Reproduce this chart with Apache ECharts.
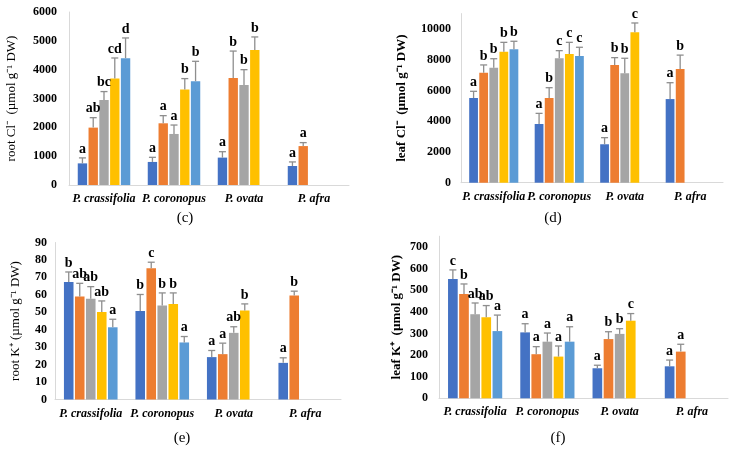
<!DOCTYPE html>
<html><head><meta charset="utf-8">
<script src="https://cdn.jsdelivr.net/npm/echarts@6/dist/echarts.min.js"></script>
<style>html,body{margin:0;padding:0;background:#fff}#chart{width:734px;height:450px}</style>
</head><body><div id="chart"></div>
<script>
// ---------- data ----------
const categories = ['P. crassifolia', 'P. coronopus', 'P. ovata', 'P. afra'];
const seriesNames = ['Treatment 1', 'Treatment 2', 'Treatment 3', 'Treatment 4', 'Treatment 5'];

// (c) root Cl- (µmol g-1 DW)
const rootClMeans = [
  [750, 800, 950, 660],
  [1990, 2140, 3710, 1350],
  [2950, 1770, 3470, null],
  [3690, 3310, 4680, null],
  [4400, 3600, null, null]
];
const rootClErr = [
  [190, 160, 205, 140],
  [345, 265, 935, 120],
  [290, 310, 530, null],
  [715, 380, 455, null],
  [700, 690, null, null]
];
const rootClLetters = [
  ['a', 'a', 'a', 'a'],
  ['ab', 'a', 'b', 'a'],
  ['bc', 'a', 'b', null],
  ['cd', 'b', 'b', null],
  ['d', 'b', null, null]
];

// (d) leaf Cl- (µmol g-1 DW)
const leafClMeans = [
  [5510, 3820, 2500, 5440],
  [7160, 5510, 7660, 7400],
  [7480, 8090, 7120, null],
  [8525, 8370, 9785, null],
  [8680, 8240, null, null]
];
const leafClErr = [
  [435, 690, 430, 1065],
  [500, 670, 475, 900],
  [585, 500, 975, null],
  [605, 760, 605, null],
  [520, 570, null, null]
];
const leafClLetters = [
  ['a', 'a', 'a', 'a'],
  ['b', 'b', 'b', 'b'],
  ['b', 'c', 'b', null],
  ['b', 'c', 'c', null],
  ['b', 'c', null, null]
];

// (e) root K+ (µmol g-1 DW)
const rootKMeans = [
  [67.3, 50.8, 24.3, 21.0],
  [59.0, 75.3, 26.0, 59.6],
  [57.7, 53.9, 38.2, null],
  [50.1, 54.7, 51.0, null],
  [41.4, 32.7, null, null]
];
const rootKErr = [
  [5.8, 9.4, 3.8, 2.9],
  [7.6, 3.4, 6.3, 2.5],
  [7.0, 7.2, 3.5, null],
  [6.4, 6.4, 3.8, null],
  [4.6, 3.4, null, null]
];
const rootKLetters = [
  ['b', 'b', 'a', 'a'],
  ['ab', 'c', 'a', 'b'],
  ['ab', 'b', 'ab', null],
  ['ab', 'b', 'b', null],
  ['a', 'a', null, null]
];

// (f) leaf K+ (µmol g-1 DW)
const leafKMeans = [
  [552, 305, 139, 148],
  [483, 204, 274, 216],
  [389, 262, 298, null],
  [375, 193, 359, null],
  [311, 262, null, null]
];
const leafKErr = [
  [42, 40, 14, 29],
  [46, 35, 34, 34],
  [52, 40, 24, null],
  [54, 49, 33, null],
  [74, 69, null, null]
];
const leafKLetters = [
  ['c', 'a', 'a', 'a'],
  ['b', 'a', 'b', 'a'],
  ['ab', 'a', 'b', null],
  ['ab', 'a', 'c', null],
  ['a', 'a', null, null]
];

const yAxisTitles = ['root Cl\u207B  (\u00B5mol g\u207B\u00B9 DW)', 'leaf Cl\u207B  (\u00B5mol g\u207B\u00B9 DW)', 'root K\u207A (\u00B5mol g\u207B\u00B9 DW)', 'leaf K\u207A  (\u00B5mol g\u207B\u00B9 DW)'];
const panelTags = ['(c)', '(d)', '(e)', '(f)'];

// ---------- style ----------
const colors = ['#4472C4', '#ED7D31', '#A5A5A5', '#FFC000', '#5B9BD5'];
const FONT = '"Liberation Serif", "Times New Roman", serif';
const CAT_GAP = 0.25, BAR_GAP = 0.15;

const panels = [
  { means: rootClMeans, err: rootClErr, letters: rootClLetters, max: 6000, interval: 1000, showMax: true,
    grid: { left: 69, top: 12, width: 280, height: 173 }, labelMargin: 12, nameGap: 51, nameBold: 'normal', tag: [185, 218] },
  { means: leafClMeans, err: leafClErr, letters: leafClLetters, max: 11000, interval: 2000, showMax: false,
    grid: { left: 461, top: 13.6, width: 262, height: 169.1 }, labelMargin: 10, nameGap: 53, nameBold: 'bold', tag: [553, 218] },
  { means: rootKMeans, err: rootKErr, letters: rootKLetters, max: 90, interval: 10, showMax: true,
    grid: { left: 55, top: 242.5, width: 286, height: 157 }, labelMargin: 8, nameGap: 33, nameBold: 'normal', tag: [182, 438] },
  { means: leafKMeans, err: leafKErr, letters: leafKLetters, max: 750, interval: 100, showMax: false,
    grid: { left: 439, top: 236.2, width: 289, height: 162.1 }, labelMargin: 11, nameGap: 36, nameBold: 'bold', tag: [558, 438] }
];

function errRenderer(sIdx, nSeries, letterList) {
  return function (params, api) {
    const cat = api.value(0), mean = api.value(1), top = api.value(2);
    const p0 = api.coord([cat, mean]);
    const p1 = api.coord([cat, top]);
    const band = api.size([1, 0])[0];
    const remained = band * (1 - CAT_GAP);
    const w = remained / (nSeries + (nSeries - 1) * BAR_GAP);
    const total = w * nSeries + w * BAR_GAP * (nSeries - 1);
    const x = p0[0] - total / 2 + sIdx * w * (1 + BAR_GAP) + w / 2;
    const st = { stroke: '#8E8E8E', lineWidth: 1.3 };
    return {
      type: 'group',
      children: [
        { type: 'line', shape: { x1: x, y1: p0[1], x2: x, y2: p1[1] }, style: st },
        { type: 'line', shape: { x1: x - 3.5, y1: p1[1], x2: x + 3.5, y2: p1[1] }, style: st },
        { type: 'text', x: x, y: p1[1] - 2, style: { text: letterList[params.dataIndex], textAlign: 'center', textVerticalAlign: 'bottom', font: 'bold 14px ' + FONT, fill: '#000' } }
      ]
    };
  };
}

const grids = [], xAxes = [], yAxes = [], series = [], graphics = [];
panels.forEach((p, pi) => {
  grids.push(Object.assign({ containLabel: false }, p.grid));
  xAxes.push({
    type: 'category', gridIndex: pi, data: categories,
    axisTick: { show: false },
    axisLine: { lineStyle: { color: '#D9D9D9', width: 1 } },
    axisLabel: { interval: 0, margin: 8, color: '#000', fontFamily: FONT, fontSize: 12, fontWeight: 'bold', fontStyle: 'italic' }
  });
  yAxes.push({
    type: 'value', gridIndex: pi, min: 0, max: p.max, interval: p.interval,
    name: yAxisTitles[pi], nameLocation: 'middle', nameRotate: 90, nameGap: p.nameGap,
    nameTextStyle: { color: '#000', fontFamily: FONT, fontSize: 13, fontWeight: p.nameBold },
    axisLine: { show: true, lineStyle: { color: '#D9D9D9', width: 1 } },
    axisTick: { show: false },
    splitLine: { show: false },
    axisLabel: { margin: p.labelMargin, color: '#000', fontFamily: FONT, fontSize: 12, fontWeight: 'bold', showMaxLabel: p.showMax,
      formatter: v => String(v) }
  });
  const n = p.means.length;
  p.means.forEach((vals, si) => {
    series.push({
      type: 'bar', name: seriesNames[si], xAxisIndex: pi, yAxisIndex: pi,
      data: vals, barCategoryGap: (CAT_GAP * 100) + '%', barGap: (BAR_GAP * 100) + '%',
      itemStyle: { color: colors[si] }, silent: true
    });
    const errData = [], letterList = [];
    vals.forEach((v, ci) => {
      if (v == null) return;
      errData.push([ci, v, v + p.err[si][ci]]);
      letterList.push(p.letters[si][ci]);
    });
    series.push({
      type: 'custom', xAxisIndex: pi, yAxisIndex: pi, z: 5, silent: true,
      renderItem: errRenderer(si, n, letterList), data: errData
    });
  });
  graphics.push({
    type: 'text', x: p.tag[0], y: p.tag[1],
    style: { text: panelTags[pi], textAlign: 'center', textVerticalAlign: 'middle', font: '15px ' + FONT, fill: '#000' }
  });
});

const chart = echarts.init(document.getElementById('chart'), null, { renderer: 'canvas' });
chart.setOption({
  animation: false,
  backgroundColor: '#fff',
  grid: grids, xAxis: xAxes, yAxis: yAxes, series: series, graphic: graphics
});
</script>
</body></html>
